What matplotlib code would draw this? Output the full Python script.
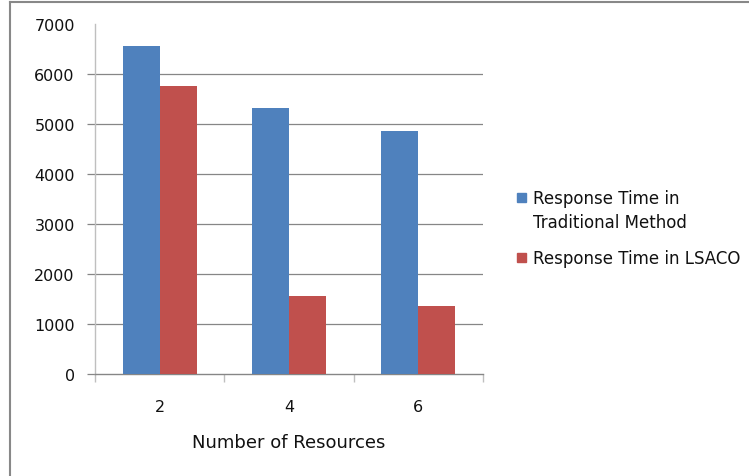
import matplotlib.pyplot as plt
from matplotlib.lines import Line2D
from matplotlib.patches import Rectangle
import numpy as np

plt.rcParams['font.family'] = ['DejaVu Sans']

resources = ['2', '4', '6']
traditional = [6570, 5320, 4860]
lsaco = [5760, 1560, 1370]
series_names = ['Response Time in\nTraditional Method', 'Response Time in LSACO']
colors = ['#4F81BD', '#C0504D']

W, H = 749, 477
fig = plt.figure(figsize=(W / 100, H / 100), dpi=100)
ax = fig.add_axes([95 / W, (H - 375) / H, (483 - 95) / W, 350 / H])

x = np.arange(1, len(resources) + 1)
bw = 1 / 3.5
ax.bar(x - bw / 2, traditional, bw, color=colors[0], zorder=3)
ax.bar(x + bw / 2, lsaco, bw, color=colors[1], zorder=3)

ax.set_xlim(0.5, len(resources) + 0.5)
ax.set_ylim(0, 7000)
ax.set_yticks(range(0, 7001, 1000))
ax.set_xticks(x)
ax.set_xticklabels(resources)
ax.set_xticks(np.arange(0.5, len(resources) + 1, 1), minor=True)

for v in range(1000, 7000, 1000):
    ax.axhline(v, color='#868686', lw=0.9, zorder=1)

for s in ['top', 'right']:
    ax.spines[s].set_visible(False)
ax.spines['left'].set_color('#BFBFBF')
ax.spines['left'].set_linewidth(1.0)
ax.spines['bottom'].set_color('#868686')
ax.spines['bottom'].set_linewidth(1.0)

ax.tick_params(axis='y', length=6, width=0.9, color='#868686', pad=8.5, labelsize=11.5, labelcolor='#111111')
ax.yaxis.get_major_ticks()[-1].tick1line.set_visible(False)
ax.tick_params(axis='x', which='major', length=0, pad=18, labelsize=11.5, labelcolor='#111111')
ax.tick_params(axis='x', which='minor', length=5.5, width=1.0, color='#BFBFBF')
ax.set_xlabel('Number of Resources', fontsize=13, color='#111111', labelpad=14)

# legend drawn on the figure
fig.add_artist(Rectangle((517 / W, 1 - 203 / H), 9 / W, 9 / H, color=colors[0], transform=fig.transFigure))
fig.text(533 / W, 1 - 199 / H, 'Response Time in', fontsize=12, va='center', color='#111111')
fig.text(533 / W, 1 - 223 / H, 'Traditional Method', fontsize=12, va='center', color='#111111')
fig.add_artist(Rectangle((517 / W, 1 - 263 / H), 9 / W, 9 / H, color=colors[1], transform=fig.transFigure))
fig.text(533 / W, 1 - 259 / H, series_names[1], fontsize=12, va='center', color='#111111')

# outer chart border
fig.add_artist(Line2D([9.5 / W, 9.5 / W], [0, 1 - 3 / H], color='#888888', lw=1.5))
fig.add_artist(Line2D([9.5 / W, 1], [1 - 3 / H, 1 - 3 / H], color='#888888', lw=1.5))

fig.savefig('out.png', dpi=100)
